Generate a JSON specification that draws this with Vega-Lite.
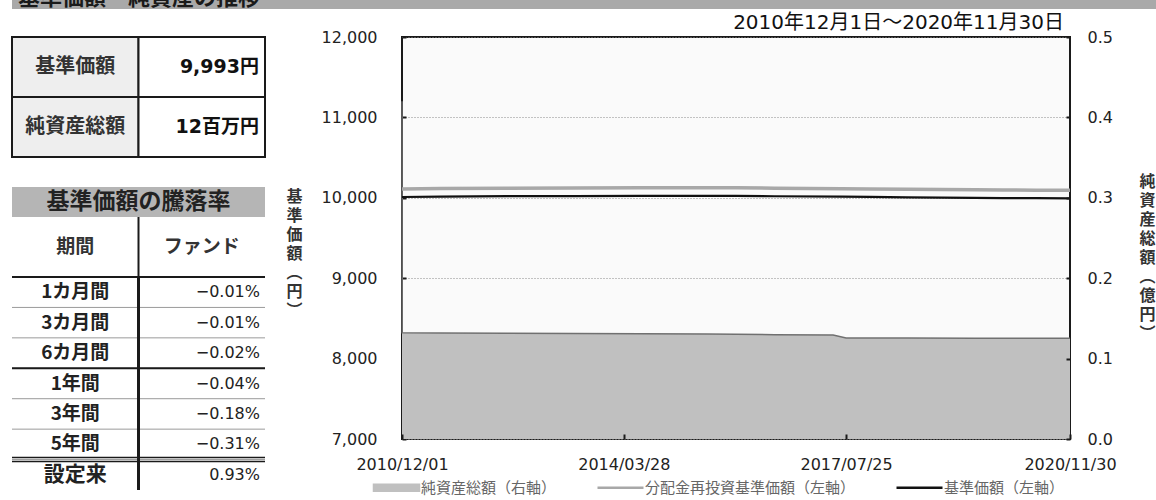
{
  "$schema": "https://vega.github.io/schema/vega-lite/v6.json",
  "padding": {"left": 11, "top": 0, "right": 0, "bottom": 0},
  "config": {
    "view": {"stroke": null},
    "font": "Noto Sans CJK JP"
  },
  "datasets": {
    "基本情報": [
      {"項目": "基準価額", "値": "9,993円"},
      {"項目": "純資産総額", "値": "12百万円"}
    ],
    "騰落率": [
      {"期間": "1カ月間", "ファンド": -0.0001, "区分": "月"},
      {"期間": "3カ月間", "ファンド": -0.0001, "区分": "月"},
      {"期間": "6カ月間", "ファンド": -0.0002, "区分": "月"},
      {"期間": "1年間", "ファンド": -0.0004, "区分": "年"},
      {"期間": "3年間", "ファンド": -0.0018, "区分": "年"},
      {"期間": "5年間", "ファンド": -0.0031, "区分": "年"},
      {"期間": "設定来", "ファンド": 0.0093, "区分": "設定来"}
    ],
    "推移": [
      {"日付": "2010-12-01", "系列": "純資産総額（右軸）", "値": 0.42},
      {"日付": "2010-12-02", "系列": "純資産総額（右軸）", "値": 0.132},
      {"日付": "2011-06-30", "系列": "純資産総額（右軸）", "値": 0.1318},
      {"日付": "2012-06-29", "系列": "純資産総額（右軸）", "値": 0.1315},
      {"日付": "2013-06-28", "系列": "純資産総額（右軸）", "値": 0.1312},
      {"日付": "2014-06-30", "系列": "純資産総額（右軸）", "値": 0.131},
      {"日付": "2015-06-30", "系列": "純資産総額（右軸）", "値": 0.1305},
      {"日付": "2016-06-30", "系列": "純資産総額（右軸）", "値": 0.1298},
      {"日付": "2017-05-15", "系列": "純資産総額（右軸）", "値": 0.1294},
      {"日付": "2017-07-25", "系列": "純資産総額（右軸）", "値": 0.1255},
      {"日付": "2018-06-29", "系列": "純資産総額（右軸）", "値": 0.1255},
      {"日付": "2019-06-28", "系列": "純資産総額（右軸）", "値": 0.1253},
      {"日付": "2020-11-30", "系列": "純資産総額（右軸）", "値": 0.1252},
      {"日付": "2010-12-01", "系列": "分配金再投資基準価額（左軸）", "値": 10110},
      {"日付": "2011-06-30", "系列": "分配金再投資基準価額（左軸）", "値": 10115},
      {"日付": "2012-06-29", "系列": "分配金再投資基準価額（左軸）", "値": 10120},
      {"日付": "2013-06-28", "系列": "分配金再投資基準価額（左軸）", "値": 10122},
      {"日付": "2014-06-30", "系列": "分配金再投資基準価額（左軸）", "値": 10125},
      {"日付": "2015-06-30", "系列": "分配金再投資基準価額（左軸）", "値": 10125},
      {"日付": "2015-11-30", "系列": "分配金再投資基準価額（左軸）", "値": 10124},
      {"日付": "2016-06-30", "系列": "分配金再投資基準価額（左軸）", "値": 10119},
      {"日付": "2017-06-30", "系列": "分配金再投資基準価額（左軸）", "値": 10114},
      {"日付": "2017-11-30", "系列": "分配金再投資基準価額（左軸）", "値": 10111},
      {"日付": "2018-06-29", "系列": "分配金再投資基準価額（左軸）", "値": 10105},
      {"日付": "2019-06-28", "系列": "分配金再投資基準価額（左軸）", "値": 10100},
      {"日付": "2019-11-29", "系列": "分配金再投資基準価額（左軸）", "値": 10097},
      {"日付": "2020-05-29", "系列": "分配金再投資基準価額（左軸）", "値": 10095},
      {"日付": "2020-11-30", "系列": "分配金再投資基準価額（左軸）", "値": 10093},
      {"日付": "2010-12-01", "系列": "基準価額（左軸）", "値": 10010},
      {"日付": "2011-06-30", "系列": "基準価額（左軸）", "値": 10015},
      {"日付": "2012-06-29", "系列": "基準価額（左軸）", "値": 10020},
      {"日付": "2013-06-28", "系列": "基準価額（左軸）", "値": 10022},
      {"日付": "2014-06-30", "系列": "基準価額（左軸）", "値": 10025},
      {"日付": "2015-06-30", "系列": "基準価額（左軸）", "値": 10025},
      {"日付": "2015-11-30", "系列": "基準価額（左軸）", "値": 10024},
      {"日付": "2016-06-30", "系列": "基準価額（左軸）", "値": 10019},
      {"日付": "2017-06-30", "系列": "基準価額（左軸）", "値": 10014},
      {"日付": "2017-11-30", "系列": "基準価額（左軸）", "値": 10011},
      {"日付": "2018-06-29", "系列": "基準価額（左軸）", "値": 10005},
      {"日付": "2019-06-28", "系列": "基準価額（左軸）", "値": 10000},
      {"日付": "2019-11-29", "系列": "基準価額（左軸）", "値": 9997},
      {"日付": "2020-05-29", "系列": "基準価額（左軸）", "値": 9995},
      {"日付": "2020-11-30", "系列": "基準価額（左軸）", "値": 9993}
    ]
  },
  "spacing": 3,
  "vconcat": [
    {
      "width": 1145,
      "height": 9,
      "view": {"fill": "#a9a9a9", "stroke": null},
      "data": {"values": [{"見出し": "基準価額・純資産の推移"}]},
      "mark": {"type": "text", "clip": true, "align": "left", "baseline": "bottom", "fontSize": 22, "fontWeight": "bold", "color": "#1a1a1a", "dx": 6, "dy": 1},
      "encoding": {
        "text": {"field": "見出し"},
        "x": {"datum": 0, "type": "quantitative", "scale": {"domain": [0, 1], "nice": false}, "axis": null},
        "y": {"datum": 0, "type": "quantitative", "scale": {"domain": [0, 1], "nice": false}, "axis": null}
      }
    },
    {
      "hconcat": [
        {
          "vconcat": [
            {
              "width": 253,
              "height": 120,
              "data": {"name": "基本情報"},
              "transform": [{"fold": ["項目", "値"], "as": ["列", "内容"]}],
              "encoding": {
                "x": {"field": "列", "type": "nominal", "sort": ["項目", "値"], "scale": {"paddingInner": 0, "paddingOuter": 0}, "axis": null},
                "y": {"field": "項目", "type": "nominal", "sort": ["基準価額", "純資産総額"], "scale": {"paddingInner": 0, "paddingOuter": 0}, "axis": null}
              },
              "layer": [
                {
                  "mark": {"type": "rect", "stroke": "#1a1a1a", "strokeWidth": 2},
                  "encoding": {"fill": {"condition": {"test": "datum['列'] === '項目'", "value": "#eeeeee"}, "value": "#ffffff"}}
                },
                {
                  "mark": {"type": "text", "fontSize": 20, "fontWeight": "bold", "color": "#333333"},
                  "encoding": {
                    "text": {"field": "内容"},
                    "opacity": {"condition": {"test": "datum['列'] === '項目'", "value": 1}, "value": 0}
                  }
                },
                {
                  "mark": {"type": "text", "align": "right", "fontSize": 19, "fontWeight": "bold", "color": "#111111", "dx": -6, "font": "DejaVu Sans, Noto Sans CJK JP"},
                  "encoding": {
                    "text": {"field": "内容"},
                    "x": {"field": "列", "type": "nominal", "sort": ["項目", "値"], "bandPosition": 1},
                    "opacity": {"condition": {"test": "datum['列'] === '値'", "value": 1}, "value": 0}
                  }
                }
              ]
            },
            {"width": 253, "height": 30, "data": {"values": []}, "mark": "text"},
            {
              "width": 253,
              "height": 30,
              "view": {"fill": "#b5b5b5", "stroke": null},
              "data": {"values": [{"見出し": "基準価額の騰落率"}]},
              "mark": {"type": "text", "fontSize": 23, "fontWeight": "bold", "color": "#222222"},
              "encoding": {"text": {"field": "見出し"}}
            },
            {
              "width": 253,
              "height": 60,
              "data": {"values": [{"列": "期間"}, {"列": "ファンド"}]},
              "encoding": {
                "x": {"field": "列", "type": "nominal", "sort": ["期間", "ファンド"], "scale": {"paddingInner": 0, "paddingOuter": 0}, "axis": null}
              },
              "layer": [
                {"mark": {"type": "text", "fontSize": 19, "fontWeight": "bold", "color": "#333333"}, "encoding": {"text": {"field": "列"}}},
                {
                  "mark": {"type": "rule", "color": "#1a1a1a", "strokeWidth": 2},
                  "encoding": {
                    "x": {"field": "列", "type": "nominal", "sort": ["期間", "ファンド"], "bandPosition": 0},
                    "strokeOpacity": {"condition": {"test": "datum['列'] === 'ファンド'", "value": 1}, "value": 0}
                  }
                }
              ]
            },
            {
              "width": 253,
              "height": 213,
              "data": {"name": "騰落率"},
              "transform": [{"window": [{"op": "row_number", "as": "区分内順"}], "groupby": ["区分"]}],
              "layer": [
                {
                  "mark": {"type": "rule", "color": "#9a9a9a", "strokeWidth": 1},
                  "encoding": {"y": {"field": "期間", "type": "nominal", "sort": null, "bandPosition": 0, "scale": {"paddingInner": 0, "paddingOuter": 0}, "axis": null}}
                },
                {
                  "mark": {"type": "rule", "color": "#1a1a1a", "strokeWidth": 2},
                  "encoding": {
                    "y": {"field": "期間", "type": "nominal", "sort": null, "bandPosition": 0},
                    "strokeOpacity": {"condition": {"test": "datum['区分内順'] === 1 && datum['区分'] !== '設定来'", "value": 1}, "value": 0}
                  }
                },
                {
                  "mark": {"type": "rule", "color": "#1a1a1a", "strokeWidth": 1.5, "yOffset": -2},
                  "encoding": {
                    "y": {"field": "期間", "type": "nominal", "sort": null, "bandPosition": 0},
                    "strokeOpacity": {"condition": {"test": "datum['区分'] === '設定来'", "value": 1}, "value": 0}
                  }
                },
                {
                  "mark": {"type": "rule", "color": "#1a1a1a", "strokeWidth": 1.5, "yOffset": 2},
                  "encoding": {
                    "y": {"field": "期間", "type": "nominal", "sort": null, "bandPosition": 0},
                    "strokeOpacity": {"condition": {"test": "datum['区分'] === '設定来'", "value": 1}, "value": 0}
                  }
                },
                {
                  "mark": {"type": "rule", "color": "#1a1a1a", "strokeWidth": 2},
                  "encoding": {
                    "x": {"datum": "ファンド", "type": "nominal", "bandPosition": 0, "scale": {"domain": ["期間", "ファンド"], "paddingInner": 0, "paddingOuter": 0}, "axis": null}
                  }
                },
                {
                  "mark": {"type": "text", "fontWeight": "bold", "color": "#222222"},
                  "encoding": {
                    "text": {"field": "期間"},
                    "x": {"datum": "期間", "type": "nominal", "bandPosition": 0.5},
                    "y": {"field": "期間", "type": "nominal", "sort": null},
                    "size": {"condition": {"test": "datum['区分'] === '設定来'", "value": 21}, "value": 19}
                  }
                },
                {
                  "mark": {"type": "text", "align": "right", "dx": -5, "fontSize": 16, "color": "#222222", "font": "DejaVu Sans"},
                  "encoding": {
                    "text": {"field": "ファンド", "type": "quantitative", "format": ".2%"},
                    "x": {"datum": "ファンド", "type": "nominal", "bandPosition": 1},
                    "y": {"field": "期間", "type": "nominal", "sort": null}
                  }
                }
              ]
            }
          ],
          "spacing": 0,
          "bounds": "flush"
        },
        {
          "width": 668,
          "height": 402,
          "view": {"fill": "#fafafa", "stroke": "#1a1a1a", "strokeWidth": 2},
          "title": {
            "text": "2010年12月1日～2020年11月30日",
            "anchor": "end",
            "frame": "group",
            "fontSize": 20,
            "fontWeight": "normal",
            "font": "DejaVu Sans, Noto Sans CJK JP",
            "color": "#111111",
            "offset": -4,
            "dx": -6
          },
          "data": {"name": "推移"},
          "encoding": {
            "x": {
              "field": "日付",
              "type": "temporal",
              "scale": {"type": "utc", "nice": false, "domain": [{"year": 2010, "month": 12, "date": 1, "utc": true}, {"year": 2020, "month": 11, "date": 30, "utc": true}]},
              "axis": {
                "values": [
                  {"year": 2010, "month": 12, "date": 1, "utc": true},
                  {"year": 2014, "month": 3, "date": 28, "utc": true},
                  {"year": 2017, "month": 7, "date": 25, "utc": true},
                  {"year": 2020, "month": 11, "date": 30, "utc": true}
                ],
                "format": "%Y/%m/%d",
                "title": null,
                "domain": false,
                "grid": false,
                "tickSize": -5,
                "tickWidth": 2,
                "tickColor": "#1a1a1a",
                "labelPadding": 22,
                "labelFontSize": 16,
                "labelFont": "DejaVu Sans",
                "labelColor": "#222222",
                "labelFlush": false,
                "labelOverlap": false,
                "zindex": 1
              }
            }
          },
          "layer": [
            {
              "transform": [{"filter": "datum['系列'] === '純資産総額（右軸）'"}],
              "encoding": {
                "y": {
                  "field": "値",
                  "type": "quantitative",
                  "scale": {"domain": [0, 0.5], "nice": false, "zero": false},
                  "axis": {
                    "orient": "right",
                    "values": [0, 0.1, 0.2, 0.3, 0.4, 0.5],
                    "format": ".1f",
                    "domain": false,
                    "grid": false,
                    "tickSize": -4,
                    "tickWidth": 2,
                    "tickColor": "#1a1a1a",
                    "labelPadding": 21,
                    "labelFontSize": 16,
                    "labelFont": "DejaVu Sans",
                    "labelColor": "#222222",
                    "title": ["純", "資", "産", "総", "額", "︵", "億", "円", "︶"],
                    "titleAngle": 0,
                    "titleX": 77,
                    "titleY": 144,
                    "titleAlign": "center",
                    "titleBaseline": "middle",
                    "titleLineHeight": 19,
                    "titleFontSize": 16,
                    "titleFont": "Noto Sans CJK JP",
                    "titleFontWeight": "bold",
                    "titleColor": "#333333",
                    "zindex": 1
                  }
                }
              },
              "layer": [
                {
                  "mark": {"type": "area", "interpolate": "linear"},
                  "encoding": {
                    "color": {
                      "field": "系列",
                      "type": "nominal",
                      "scale": {
                        "domain": ["純資産総額（右軸）", "分配金再投資基準価額（左軸）", "基準価額（左軸）"],
                        "range": ["#c0c0c0", "#a8a8a8", "#111111"]
                      },
                      "legend": {
                        "orient": "none",
                        "legendX": 377,
                        "legendY": 480,
                        "direction": "horizontal",
                        "title": null,
                        "columnPadding": 35,
                        "labelOffset": 17,
                        "labelLimit": 400,
                        "labelFontSize": 15,
                        "labelColor": "#666666",
                        "labelFont": "Noto Sans CJK JP",
                        "symbolSize": 2116,
                        "symbolStrokeColor": "#555555",
                        "encode": {
                          "symbols": {
                            "update": {
                              "shape": {"signal": "datum.value === '純資産総額（右軸）' ? 'M-1,-0.15H1V0.15H-1Z' : 'M-1,0H1'"},
                              "size": {"value": 2116},
                              "fill": {"signal": "datum.value === '純資産総額（右軸）' ? '#c0c0c0' : 'transparent'"},
                              "stroke": {"signal": "datum.value === '純資産総額（右軸）' ? '#555555' : (datum.value === '基準価額（左軸）' ? '#111111' : '#a8a8a8')"},
                              "strokeWidth": {"signal": "datum.value === '純資産総額（右軸）' ? 1.5 : 2.5"},
                              "opacity": {"value": 1}
                            }
                          }
                        }
                      }
                    }
                  }
                },
                {"mark": {"type": "line", "color": "#707070", "strokeWidth": 1.5}, "encoding": {}}
              ]
            },
            {
              "encoding": {
                "y": {
                  "field": "値",
                  "type": "quantitative",
                  "scale": {"domain": [7000, 12000], "nice": false, "zero": false},
                  "axis": {
                    "orient": "left",
                    "values": [7000, 8000, 9000, 10000, 11000, 12000],
                    "format": ",d",
                    "domain": false,
                    "grid": true,
                    "gridColor": "#8a8a8a",
                    "gridDash": [1, 2],
                    "gridWidth": 1,
                    "tickSize": -4,
                    "tickWidth": 2,
                    "tickColor": "#1a1a1a",
                    "labelPadding": 29,
                    "labelFontSize": 16,
                    "labelFont": "DejaVu Sans",
                    "labelColor": "#222222",
                    "title": ["基", "準", "価", "額", "︵", "円", "︶"],
                    "titleAngle": 0,
                    "titleX": -108,
                    "titleY": 159,
                    "titleAlign": "center",
                    "titleBaseline": "middle",
                    "titleLineHeight": 19,
                    "titleFontSize": 16,
                    "titleFont": "Noto Sans CJK JP",
                    "titleFontWeight": "bold",
                    "titleColor": "#333333"
                  }
                },
                "color": {"field": "系列", "type": "nominal"}
              },
              "layer": [
                {
                  "transform": [{"filter": "datum['系列'] === '分配金再投資基準価額（左軸）'"}],
                  "mark": {"type": "line", "strokeWidth": 3.5}
                },
                {
                  "transform": [{"filter": "datum['系列'] === '基準価額（左軸）'"}],
                  "mark": {"type": "line", "strokeWidth": 2.2}
                }
              ]
            }
          ],
          "resolve": {"scale": {"y": "independent"}}
        }
      ],
      "spacing": 18
    }
  ]
}
